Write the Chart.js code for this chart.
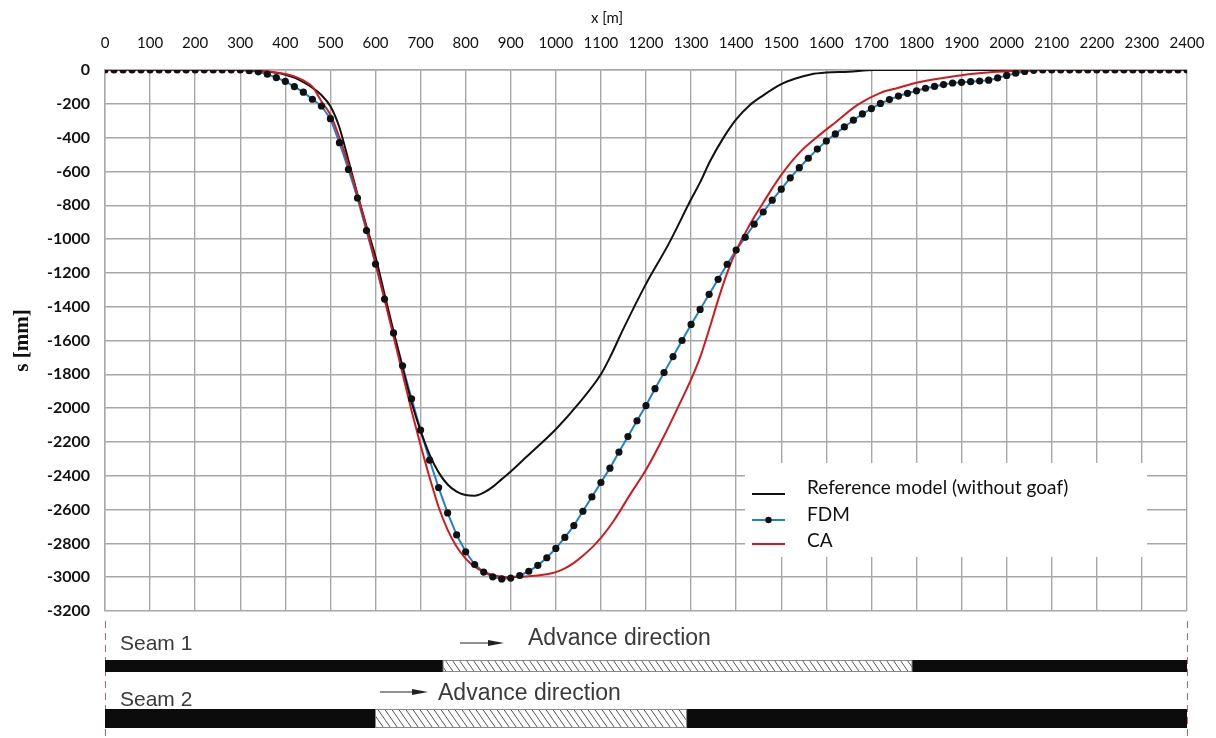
<!DOCTYPE html>
<html>
<head>
<meta charset="utf-8">
<script src="https://cdn.jsdelivr.net/npm/chart.js@4.4.0/dist/chart.umd.min.js"></script>
<style>
    body { margin: 0; background: #fff; }
    #wrap { width: 1216px; height: 738px; }
</style>
</head>
<body>
<div id="wrap"><canvas id="chart" width="1216" height="738"></canvas></div>
<script>
// FDM samples every 20 m
const fdmX = [
    0, 20, 40, 60, 80, 100, 120, 140, 160, 180, 200, 220, 240, 260, 280, 300,
    320, 340, 360, 380, 400, 420, 440, 460, 480, 500, 520, 540, 560, 580, 600,
    620, 640, 660, 680, 700, 720, 740, 760, 780, 800, 820, 840, 860, 880, 900,
    920, 940, 960, 980, 1000, 1020, 1040, 1060, 1080, 1100, 1120, 1140, 1160, 1180, 1200,
    1220, 1240, 1260, 1280, 1300, 1320, 1340, 1360, 1380, 1400, 1420, 1440, 1460, 1480, 1500,
    1520, 1540, 1560, 1580, 1600, 1620, 1640, 1660, 1680, 1700, 1720, 1740, 1760, 1780, 1800,
    1820, 1840, 1860, 1880, 1900, 1920, 1940, 1960, 1980, 2000, 2020, 2040, 2060, 2080, 2100,
    2120, 2140, 2160, 2180, 2200, 2220, 2240, 2260, 2280, 2300, 2320, 2340, 2360, 2380, 2400,
];
const fdmS = [
    0, 0, 0, 0, 0, 0, 0, 0, 0, 0, 0, 0, 0, 0, 0, 0,
    -4, -11, -25, -45, -67, -98, -131, -173, -213, -288, -430, -588, -757, -950, -1148,
    -1355, -1555, -1750, -1945, -2130, -2308, -2470, -2620, -2750, -2850, -2925, -2970, -2998, -3010, -3005,
    -2990, -2965, -2930, -2885, -2830, -2765, -2695, -2610, -2525, -2440, -2355, -2260, -2168, -2075, -1985,
    -1885, -1790, -1695, -1600, -1505, -1416, -1327, -1238, -1149, -1065, -990, -912, -840, -770, -705,
    -638, -578, -522, -468, -420, -378, -337, -297, -260, -228, -198, -175, -154, -138, -123,
    -108, -97, -86, -77, -73, -69, -65, -60, -47, -32, -19, -9, -2, 0, 0,
    0, 0, 0, 0, 0, 0, 0, 0, 0, 0, 0, 0, 0, 0, 0,
];

// Reference model (without goaf)
const refX = [0, 300, 340, 380, 400, 420, 440, 460, 480, 500, 520, 540, 560, 580, 600, 620, 640, 660, 680, 700,
    720, 740, 760, 780, 800, 820, 840, 860, 880, 900, 935, 1000, 1050, 1100, 1120, 1150, 1200, 1250, 1300, 1320,
    1342, 1372, 1400, 1430, 1460, 1500, 1530, 1565, 1600, 1650, 1705, 2400];
const refS = [0, 0, -5, -17, -28, -45, -72, -105, -148, -215, -340, -535, -735, -925, -1105, -1325, -1545, -1760, -1965, -2135,
    -2275, -2380, -2452, -2494, -2514, -2518, -2500, -2466, -2420, -2375, -2288, -2125, -1975, -1800, -1700, -1530, -1265, -1030, -765, -665,
    -540, -400, -292, -208, -150, -84, -52, -26, -15, -10, 0, 0];

// CA
const caX = [0, 320, 360, 400, 420, 440, 460, 480, 500, 520, 540, 560, 580, 600, 620, 640, 660, 680, 700, 720,
    740, 760, 780, 800, 820, 840, 860, 880, 900, 920, 940, 960, 980, 1000, 1020, 1040, 1060, 1080, 1100, 1130,
    1165, 1200, 1240, 1270, 1300, 1320, 1340, 1360, 1380, 1400, 1420, 1440, 1460, 1480, 1500, 1540, 1580, 1620, 1670, 1720,
    1760, 1800, 1880, 1950, 2000, 2050, 2080, 2400];
const caS = [0, 0, -7, -24, -38, -62, -98, -185, -265, -400, -560, -740, -935, -1140, -1355, -1575, -1795, -2015, -2220, -2410,
    -2585, -2720, -2820, -2890, -2938, -2968, -2987, -2997, -3000, -2998, -2994, -2990, -2983, -2970, -2948, -2915, -2873, -2825, -2768, -2660,
    -2510, -2365, -2165, -2000, -1830, -1700, -1535, -1360, -1200, -1070, -965, -870, -785, -700, -620, -490, -395, -310, -205, -135,
    -105, -75, -38, -16, -8, -3, 0, 0];

// mined-out (goaf) extent of each seam, metres
const seam1Goaf = [750, 1790];
const seam2Goaf = [600, 1290];

const toPoints = (xs, ys) => xs.map((x, i) => ({ x: x, y: ys[i] }));

const BLUE = '#1b84cc';
const RED = '#d11a1f';
const BLACK = '#111111';

const legendPlugin = {
    id: 'boxLegend',
    afterDatasetsDraw(chart) {
        const ctx = chart.ctx;
        ctx.save();
        ctx.fillStyle = '#fff';
        ctx.fillRect(745, 463, 402, 94);
        const rows = [
            { label: 'Reference model (without goaf)', color: BLACK, dot: false, ty: 488, ly: 494 },
            { label: 'FDM', color: BLUE, dot: true, ty: 515, ly: 520 },
            { label: 'CA', color: RED, dot: false, ty: 541, ly: 544 },
        ];
        rows.forEach((r) => {
            ctx.strokeStyle = r.color;
            ctx.lineWidth = 2;
            ctx.beginPath();
            ctx.moveTo(752, r.ly);
            ctx.lineTo(785, r.ly);
            ctx.stroke();
            if (r.dot) {
                ctx.fillStyle = BLACK;
                ctx.beginPath();
                ctx.arc(768.5, r.ly, 3.2, 0, Math.PI * 2);
                ctx.fill();
            }
            ctx.fillStyle = '#111';
            ctx.font = '19px Lato';
            ctx.textBaseline = 'middle';
            ctx.fillText(r.label, 807, r.ty);
        });
        // x axis title sits left of centre in the original
        ctx.font = '15px Lato';
        ctx.textAlign = 'center';
        ctx.fillText('x [m]', 607, 18);
        ctx.restore();
    },
};

function drawArrow(ctx, xa, xb, y) {
    ctx.strokeStyle = '#222';
    ctx.fillStyle = '#222';
    ctx.lineWidth = 1;
    ctx.beginPath();
    ctx.moveTo(xa, y);
    ctx.lineTo(xb - 10, y);
    ctx.stroke();
    ctx.beginPath();
    ctx.moveTo(xb, y);
    ctx.lineTo(xb - 16, y - 3);
    ctx.lineTo(xb - 16, y + 3);
    ctx.closePath();
    ctx.fill();
}

function drawSeam(ctx, scale, top, h, goaf) {
    const a = scale.getPixelForValue(0);
    const b = scale.getPixelForValue(2400);
    const g0 = scale.getPixelForValue(goaf[0]);
    const g1 = scale.getPixelForValue(goaf[1]);
    ctx.fillStyle = '#0c0c0c';
    ctx.fillRect(a, top, g0 - a, h);
    ctx.fillRect(g1, top, b - g1, h);
    ctx.fillStyle = '#fff';
    ctx.fillRect(g0, top, g1 - g0, h);
    ctx.save();
    ctx.beginPath();
    ctx.rect(g0, top, g1 - g0, h);
    ctx.clip();
    ctx.strokeStyle = '#555';
    ctx.lineWidth = 1;
    for (let x = g0 - h; x < g1 + h; x += 7) {
        ctx.beginPath();
        ctx.moveTo(x, top);
        ctx.lineTo(x + h * 0.7, top + h);
        ctx.stroke();
    }
    ctx.restore();
    ctx.strokeStyle = '#888';
    ctx.lineWidth = 1;
    ctx.strokeRect(g0, top + 0.5, g1 - g0, h - 1);
}

const seamPlugin = {
    id: 'seams',
    afterDraw(chart) {
        const ctx = chart.ctx;
        const sx = chart.scales.x;
        ctx.save();
        ctx.strokeStyle = '#e05a5a';
        ctx.lineWidth = 1;
        ctx.setLineDash([7, 5]);
        [0, 2400].forEach((v) => {
            const px = Math.round(sx.getPixelForValue(v)) + 0.5;
            ctx.beginPath();
            ctx.moveTo(px, 621);
            ctx.lineTo(px, 738);
            ctx.stroke();
        });
        ctx.setLineDash([]);
        drawSeam(ctx, sx, 660, 12, seam1Goaf);
        drawSeam(ctx, sx, 709, 19, seam2Goaf);
        ctx.fillStyle = '#3a3a3a';
        ctx.textBaseline = 'alphabetic';
        ctx.font = '21px "Liberation Sans"';
        ctx.fillText('Seam 1', 120, 650);
        ctx.fillText('Seam 2', 120, 706);
        ctx.font = '23px "Liberation Sans"';
        ctx.fillText('Advance direction', 528, 645);
        ctx.fillText('Advance direction', 438, 700);
        drawArrow(ctx, 460, 504, 643);
        drawArrow(ctx, 380, 428, 692);
        ctx.restore();
    },
};

new Chart('chart', {
    type: 'line',
    data: {
        datasets: [
            {
                label: 'FDM line',
                data: toPoints(fdmX, fdmS),
                borderColor: BLUE,
                borderWidth: 2,
                pointRadius: 0,
                tension: 0,
                order: 4,
            },
            {
                label: 'Reference model (without goaf)',
                data: toPoints(refX, refS),
                borderColor: BLACK,
                borderWidth: 2,
                pointRadius: 0,
                cubicInterpolationMode: 'monotone',
                order: 3,
            },
            {
                label: 'CA',
                data: toPoints(caX, caS),
                borderColor: RED,
                borderWidth: 2,
                pointRadius: 0,
                cubicInterpolationMode: 'monotone',
                order: 2,
            },
            {
                label: 'FDM',
                data: toPoints(fdmX, fdmS),
                showLine: false,
                pointRadius: 3.6,
                pointBackgroundColor: BLACK,
                pointBorderWidth: 0,
                order: 1,
            },
        ],
    },
    options: {
        responsive: false,
        animation: false,
        layout: { padding: { left: 0, top: 6, right: 29, bottom: 127 } },
        plugins: {
            legend: { display: false },
            tooltip: { enabled: false },
        },
        scales: {
            x: {
                type: 'linear',
                position: 'top',
                min: 0,
                max: 2400,
                afterFit: (s) => {
                    s.height = 64;
                    s.paddingLeft = 0;
                    s.paddingRight = 0;
                },
                ticks: {
                    stepSize: 100,
                    autoSkip: false,
                    maxRotation: 0,
                    padding: 18,
                    color: '#111',
                    font: { family: 'Lato', size: 15 },
                    callback: (v) => String(v),
                },
                grid: { color: '#a8a8a8', lineWidth: 1.4, drawTicks: false },
                border: { color: '#a8a8a8', width: 1.4 },
            },
            y: {
                type: 'linear',
                min: -3200,
                max: 0,
                afterFit: (s) => {
                    s.width = 105;
                    s.paddingTop = 0;
                    s.paddingBottom = 0;
                },
                ticks: {
                    stepSize: 200,
                    padding: 15,
                    color: '#111',
                    font: { family: 'Lato', size: 16, weight: 'bold' },
                    callback: (v) => String(v),
                },
                grid: { color: '#a8a8a8', lineWidth: 1.4, drawTicks: false },
                border: { color: '#a8a8a8', width: 1.4 },
                title: {
                    display: true,
                    text: 's [mm]',
                    color: '#111',
                    font: { family: '"Liberation Serif"', size: 21, weight: 'bold' },
                    padding: { top: 10, bottom: 0 },
                },
            },
        },
    },
    plugins: [legendPlugin, seamPlugin],
});
</script>
</body>
</html>
